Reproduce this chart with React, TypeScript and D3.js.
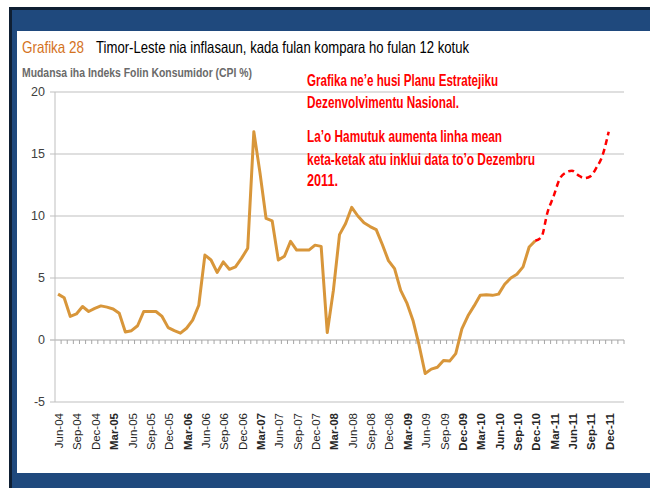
import * as d3 from "d3";

// monthly CPI change (%), Jun-04 .. Dec-10 (solid)
const inflation = [
  3.7, 3.4, 1.9, 2.1, 2.7, 2.3, 2.55, 2.75, 2.65, 2.5,
  2.15, 0.65, 0.75, 1.15, 2.3, 2.3, 2.3, 1.9, 1.0, 0.75,
  0.55, 0.95, 1.6, 2.8, 6.85, 6.45, 5.45, 6.3, 5.7, 5.9,
  6.6, 7.4, 16.8, 13.5, 9.8, 9.6, 6.45, 6.75, 7.95, 7.25,
  7.25, 7.25, 7.65, 7.55, 0.6, 4.0, 8.5, 9.4, 10.7, 10.0,
  9.45, 9.15, 8.9, 7.7, 6.4, 5.75, 4.0, 3.0, 1.6, -0.4,
  -2.7, -2.35, -2.2, -1.65, -1.7, -1.1, 0.9, 1.95, 2.75, 3.6,
  3.65, 3.6, 3.7, 4.5, 5.0, 5.3, 5.9, 7.5, 8.0,
];
// La'o Hamutuk extension (red dashed), Dec-10 .. Dec-11
const extensionStart = 78;
const extension = [8.0, 8.3, 10.3, 11.6, 13.0, 13.5, 13.65, 13.3, 13.05, 13.2, 13.9, 14.9, 16.8];

const yTicks = [-5, 0, 5, 10, 15, 20];
const tickLabels = [
  "Jun-04", "Sep-04", "Dec-04", "Mar-05", "Jun-05", "Sep-05", "Dec-05", "Mar-06",
  "Jun-06", "Sep-06", "Dec-06", "Mar-07", "Jun-07", "Sep-07", "Dec-07", "Mar-08",
  "Jun-08", "Sep-08", "Dec-08", "Mar-09", "Jun-09", "Sep-09", "Dec-09", "Mar-10",
  "Jun-10", "Sep-10", "Dec-10", "Mar-11", "Jun-11", "Sep-11", "Dec-11",
];
const boldLabels = [
  "Mar-05", "Mar-06", "Mar-07", "Mar-08", "Mar-09", "Dec-09", "Mar-10", "Jun-10",
  "Sep-10", "Dec-10", "Mar-11", "Jun-11", "Sep-11", "Dec-11",
];
// note text: line, baseline y, width
const noteLines = [
  { t: "Grafika ne\u2019e husi Planu Estratejiku", y: 86, w: 191 },
  { t: "Dezenvolvimentu Nasional.", y: 108, w: 152 },
  { t: "La\u2019o Hamutuk aumenta linha mean", y: 142, w: 195 },
  { t: "keta-ketak atu inklui data to\u2019o Dezembru", y: 165, w: 228 },
  { t: "2011.", y: 186, w: 31 },
];

const fmt = d3.timeFormat("%b-%y");
const months = d3.timeMonth.range(new Date(2004, 5, 1), new Date(2012, 2, 1)).map(fmt);

const W = 650, H = 488;
const plot = { left: 55, right: 624, top: 92, bottom: 402 };
const BLUE = "#1F497D";
const ORANGE = "#D8963A";
const FONT = "'Liberation Sans', Arial, sans-serif";

export default function App() {
  const x = d3.scaleBand<string>().domain(months).range([plot.left, plot.right]);
  const y = d3.scaleLinear().domain([-5, 20]).range([plot.bottom, plot.top]);
  const cx = (i: number) => (x(months[i]) ?? 0) + x.bandwidth() / 2;

  const solid = d3.line<number>().x((_, i) => cx(i)).y((d) => y(d));
  const dashed = d3.line<number>().x((_, i) => cx(i + extensionStart)).y((d) => y(d)).curve(d3.curveMonotoneX);

  return (
    <div style={{ position: "absolute", left: 0, top: 0 }}>
      <svg width={W} height={H} style={{ display: "block", background: "#fff" }}>
        {/* frame */}
        <rect x={9} y={7} width={W - 9} height={H - 7} fill="#0F1F33" />
        <rect x={12} y={10} width={W - 12} height={H - 10} fill={BLUE} />
        <rect x={17} y={31} width={W - 17} height={473 - 31} fill="#fff" />

        {/* titles */}
        <text x={22} y={53} fontFamily={FONT} fontSize={16.5} fill="#D4731E" textLength={62} lengthAdjust="spacingAndGlyphs">
          Grafika 28
        </text>
        <text x={96} y={53} fontFamily={FONT} fontSize={16.5} fill="#000" textLength={373} lengthAdjust="spacingAndGlyphs">
          Timor-Leste nia inflasaun, kada fulan kompara ho fulan 12 kotuk
        </text>
        <text x={22} y={77} fontFamily={FONT} fontSize={13.5} fontWeight="bold" fill="#6A6A6A" textLength={230} lengthAdjust="spacingAndGlyphs">
          Mudansa iha Indeks Folin Konsumidor (CPI %)
        </text>

        {/* grid */}
        {yTicks.map((t) => (
          <g key={t}>
            <line x1={plot.left - 5} x2={plot.right} y1={y(t)} y2={y(t)} stroke={t === 0 ? "#A6A6A6" : "#BFBFBF"} strokeWidth={1} />
            <text x={45} y={y(t)} dy="0.35em" textAnchor="end" fontFamily={FONT} fontSize={12.5} fill="#404040">
              {t}
            </text>
          </g>
        ))}
        <line x1={plot.left} x2={plot.left} y1={plot.top} y2={plot.bottom} stroke="#BFBFBF" />
        {months.map((m) => (
          <line key={m} x1={(x(m) ?? 0) + x.bandwidth()} x2={(x(m) ?? 0) + x.bandwidth()} y1={y(0)} y2={y(0) + 4} stroke="#A6A6A6" />
        ))}

        {/* x labels */}
        {tickLabels.map((lab) => (
          <text
            key={lab}
            transform={`translate(${(x(lab) ?? 0) + x.bandwidth() / 2 + 1},413) rotate(-90)`}
            dy="0.35em"
            textAnchor="end"
            fontFamily={FONT}
            fontSize={11.5}
            fontWeight={boldLabels.includes(lab) ? "bold" : "normal"}
            fill="#262626"
          >
            {lab}
          </text>
        ))}

        {/* series */}
        <path d={solid(inflation) ?? ""} fill="none" stroke={ORANGE} strokeWidth={3} strokeLinejoin="round" />
        <path d={dashed(extension) ?? ""} fill="none" stroke="#FF0000" strokeWidth={2.5} strokeDasharray="6 4" />

        {/* note */}
        {noteLines.map((l) => (
          <text key={l.t} x={307} y={l.y} fontFamily={FONT} fontSize={16} fontWeight="bold" fill="#FF0000" textLength={l.w} lengthAdjust="spacingAndGlyphs">
            {l.t}
          </text>
        ))}
      </svg>
    </div>
  );
}
